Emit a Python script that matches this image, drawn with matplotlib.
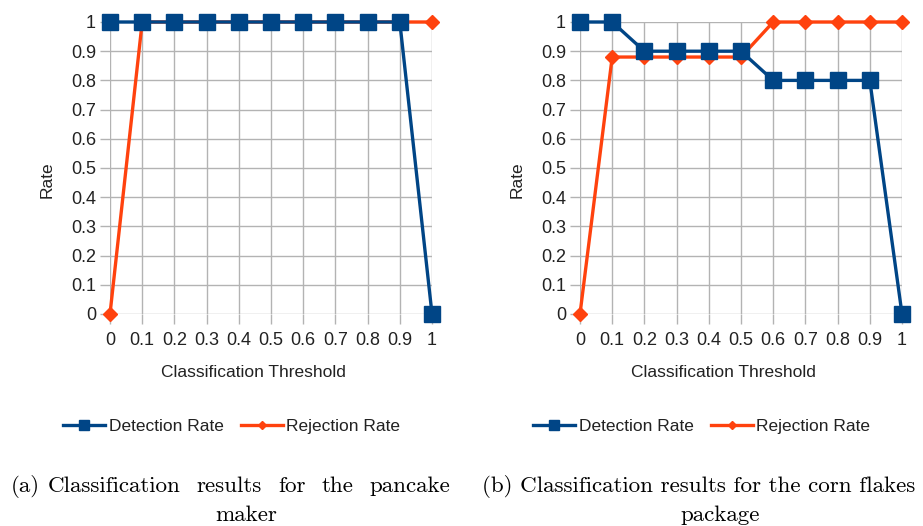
import matplotlib

matplotlib.use("Agg")
import matplotlib.pyplot as plt

# data
thresholds = [0, 0.1, 0.2, 0.3, 0.4, 0.5, 0.6, 0.7, 0.8, 0.9, 1]
threshold_labels = ["0", "0.1", "0.2", "0.3", "0.4", "0.5", "0.6", "0.7", "0.8", "0.9", "1"]
rate_ticks = [0, 0.1, 0.2, 0.3, 0.4, 0.5, 0.6, 0.7, 0.8, 0.9, 1]
rate_labels = ["0", "0.1", "0.2", "0.3", "0.4", "0.5", "0.6", "0.7", "0.8", "0.9", "1"]

pancake_detection = [1, 1, 1, 1, 1, 1, 1, 1, 1, 1, 0]
pancake_rejection = [0, 1, 1, 1, 1, 1, 1, 1, 1, 1, 1]
cornflakes_detection = [1, 1, 0.9, 0.9, 0.9, 0.9, 0.8, 0.8, 0.8, 0.8, 0]
cornflakes_rejection = [0, 0.88, 0.88, 0.88, 0.88, 0.88, 1, 1, 1, 1, 1]

BLUE = "#004586"
ORANGE = "#ff420e"
GRID = "#b3b3b3"
TEXT = "#222222"
SANS = "Liberation Sans"

W, H = 923, 526
fig = plt.figure(figsize=(W / 100, H / 100), dpi=100)


def px_axes(left, right, top, bottom):
    return fig.add_axes([left / W, 1 - bottom / H, (right - left) / W, (bottom - top) / H])


def draw_panel(ax, detection, rejection):
    ax.plot(thresholds, rejection, color=ORANGE, lw=2.4, marker="D", ms=7,
            label="Rejection Rate", clip_on=False, zorder=3)
    ax.plot(thresholds, detection, color=BLUE, lw=2.4, marker="s", ms=11,
            label="Detection Rate", clip_on=False, zorder=4)
    ax.set_xlim(0, 1)
    ax.set_ylim(0, 1)
    ax.set_xticks(thresholds, labels=threshold_labels)
    ax.set_yticks(rate_ticks, labels=rate_labels)
    ax.grid(True, color=GRID, lw=1)
    ax.set_axisbelow(True)
    for s in ax.spines.values():
        s.set_visible(False)
    ax.tick_params(colors=GRID, labelcolor=TEXT, length=7, width=1, labelsize=13)
    ax.tick_params(axis="x", pad=6)
    ax.tick_params(axis="y", pad=3)
    for lab in ax.get_xticklabels() + ax.get_yticklabels():
        lab.set_fontfamily(SANS)
    ax.set_xlabel("Classification Threshold", fontsize=12.5, family=SANS, color=TEXT, va="center")
    ax.xaxis.set_label_coords(0.444, -0.199)
    ax.set_ylabel("Rate", fontsize=12.5, family=SANS, color=TEXT, va="center")
    ax.yaxis.set_label_coords(-0.196, 0.459)
    handles, labels = ax.get_legend_handles_labels()
    ax.legend(handles[::-1], labels[::-1], loc="center", bbox_to_anchor=(0.378, -0.384),
              ncol=2, frameon=False, prop={"family": SANS, "size": 12.5},
              handlelength=2.4, handletextpad=0.2, columnspacing=1.0, labelcolor=TEXT,
              markerscale=0.6)


ax1 = px_axes(110, 432, 22, 314)
draw_panel(ax1, pancake_detection, pancake_rejection)
ax2 = px_axes(580, 902, 22, 314)
draw_panel(ax2, cornflakes_detection, cornflakes_rejection)

# captions (serif, first line of (a) justified)
cap = dict(family="cmr10", fontsize=16.6, color="black", va="center")
fig.canvas.draw()
renderer = fig.canvas.get_renderer()


def justify(words, x0, x1, y):
    texts = [fig.text(0, 1 - y / H, w, ha="left", **cap) for w in words]
    widths = [t.get_window_extent(renderer).width for t in texts]
    gap = ((x1 - x0) - sum(widths)) / (len(words) - 1)
    x = x0
    for t, w in zip(texts, widths):
        t.set_x(x / W)
        x += w + gap


fig.text(11 / W, 1 - 486 / H, "(a)", ha="left", **cap)
justify(["Classification", "results", "for", "the", "pancake"], 48, 450, 486)
fig.text(246 / W, 1 - 515 / H, "maker", ha="center", **cap)
fig.text(482 / W, 1 - 486 / H, "(b) Classification results for the corn flakes", ha="left", **cap)
fig.text(720 / W, 1 - 515 / H, "package", ha="center", **cap)

fig.savefig("out.png", dpi=100)
